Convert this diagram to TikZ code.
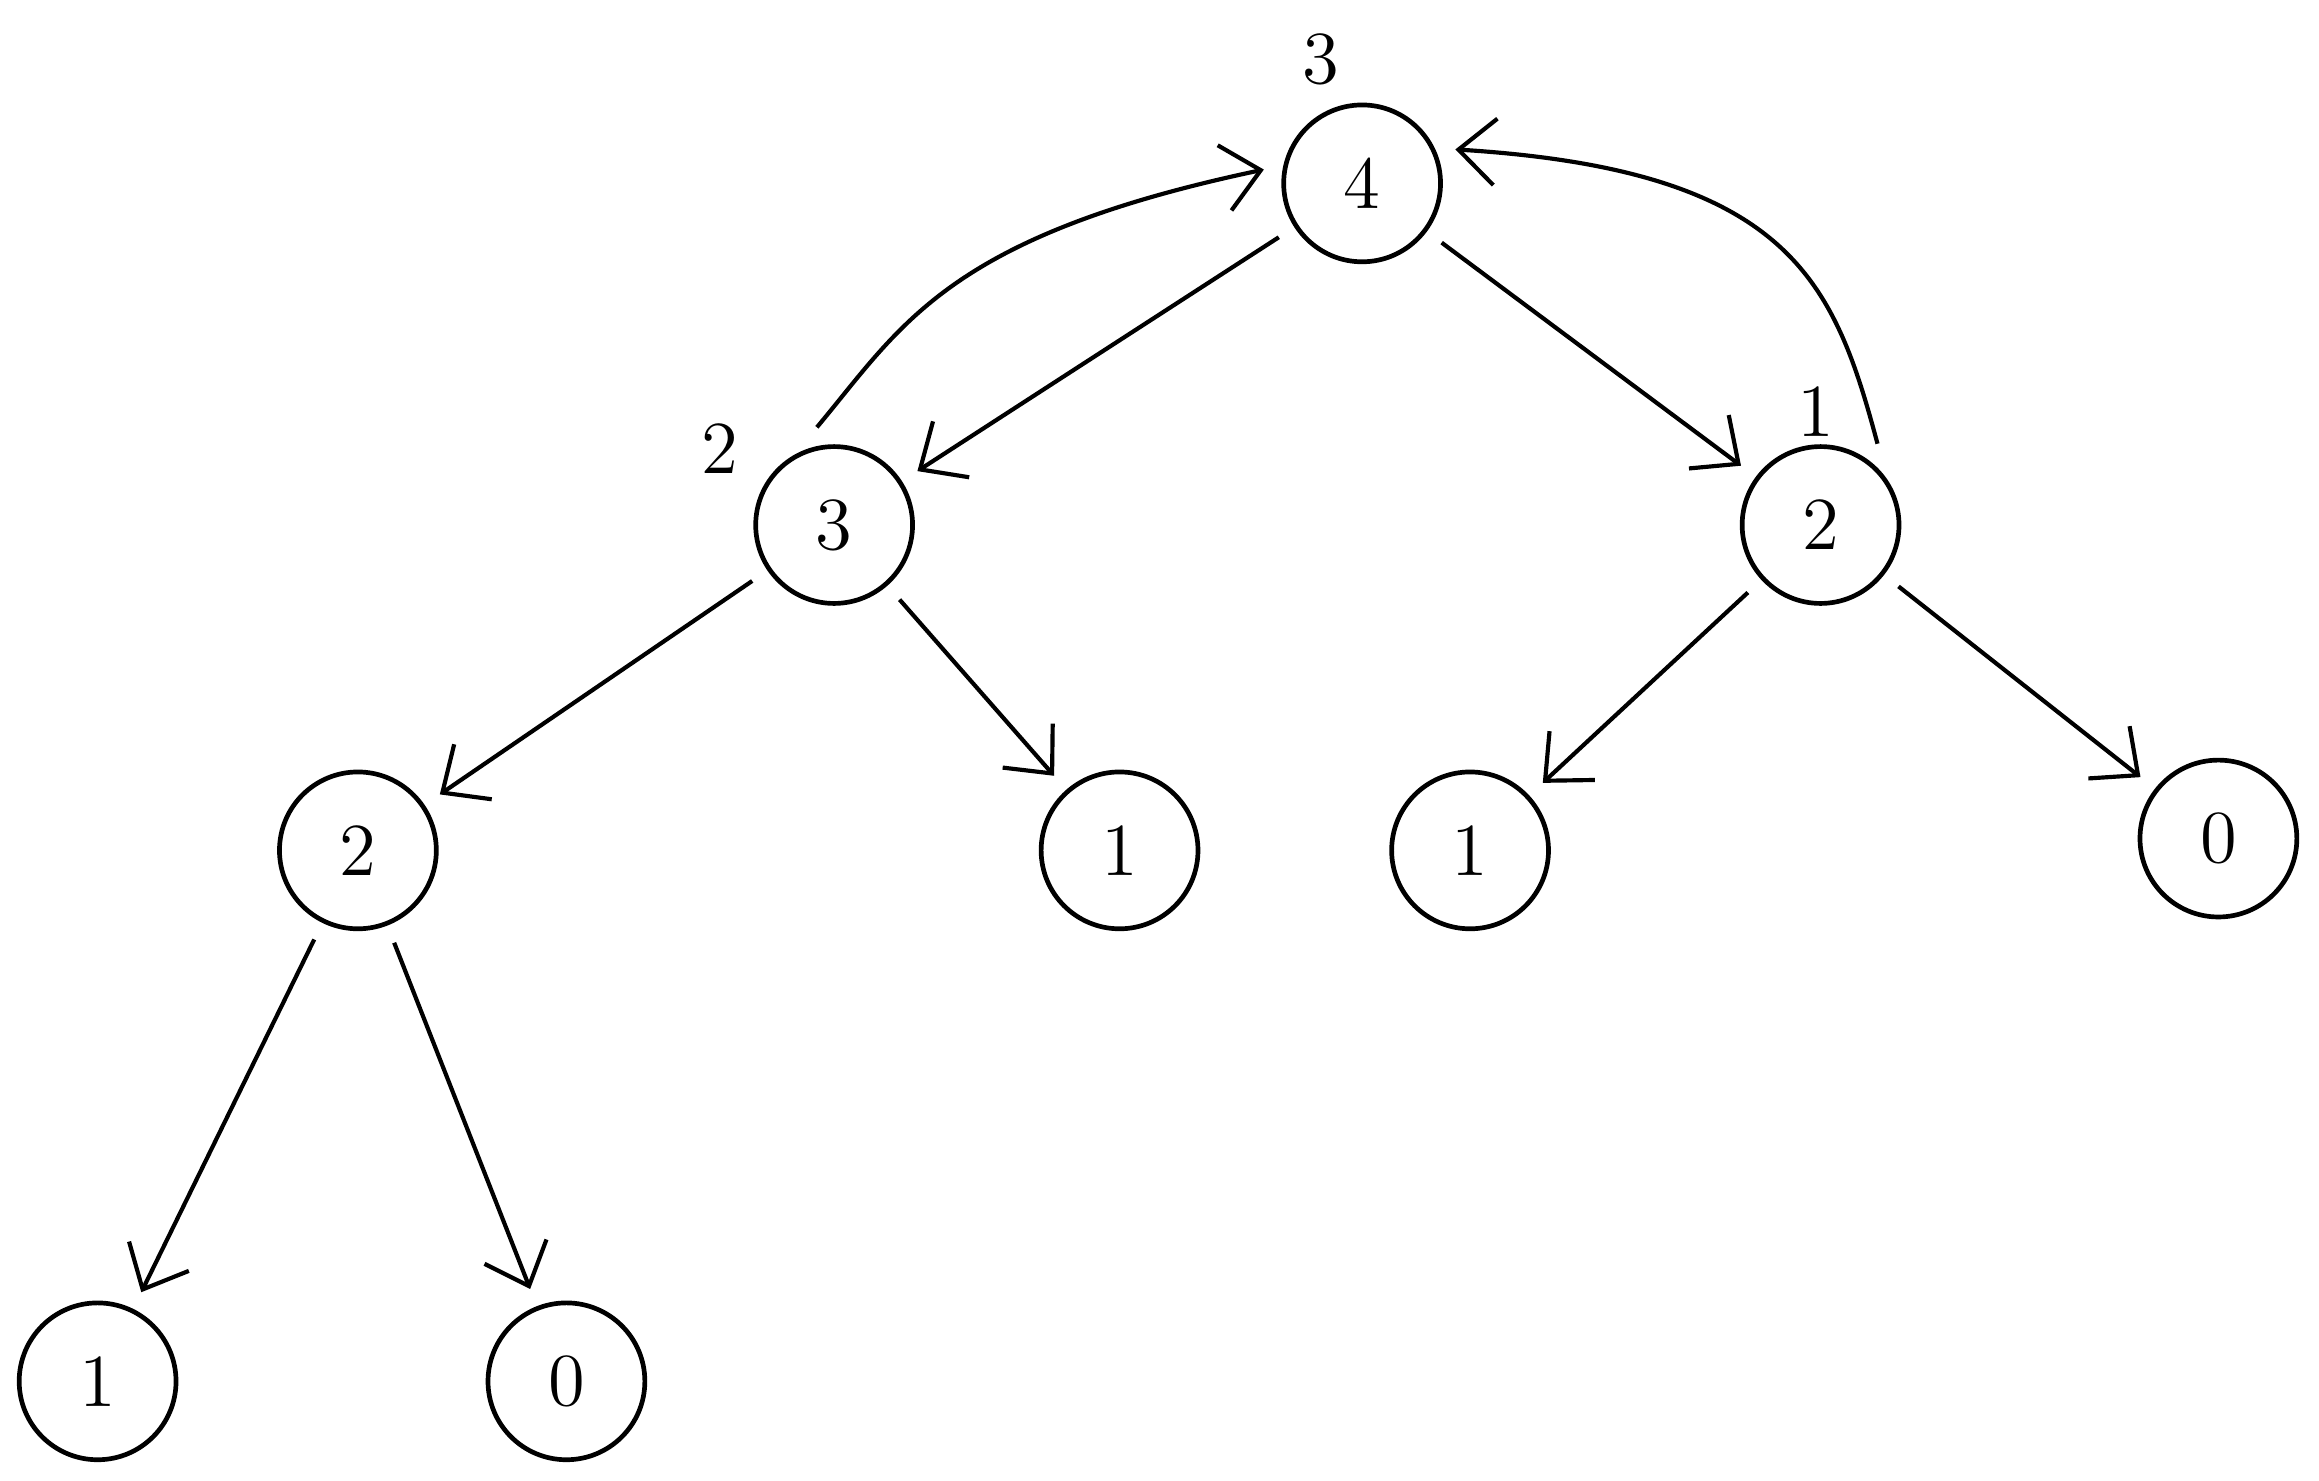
\documentclass[tikz,border=0pt]{standalone}
\usetikzlibrary{arrows.meta}
\begin{document}
\begin{tikzpicture}[x=0.01cm,y=-0.01cm,
  nd/.style={circle,draw,line width=0.9pt,minimum size=1.06cm,inner sep=0pt,font=\Large,outer sep=4pt},
  lb/.style={font=\Large},
  ar/.style={draw,line width=0.8pt,-{Straight Barb[length=2.5mm,width=4.5mm]}}]
\useasboundingbox (0,0) rectangle (1568,1001);
\node[nd] (r) at (921,124) {4};
\node[nd] (a) at (564,355) {3};
\node[nd] (b) at (1231,355) {2};
\node[nd] (c) at (242,575) {2};
\node[nd] (d) at (757,575) {1};
\node[nd] (e) at (994,575) {1};
\node[nd] (f) at (1500,567) {0};
\node[nd] (g) at (66,934) {1};
\node[nd] (h) at (383,934) {0};
\node[lb] (l1) at (893,40) {3};
\node[lb] (l2) at (487,303) {2};
\node[lb] (l3) at (1228,278) {1};
\draw[ar] (r) -- (a);
\draw[ar] (r) -- (b);
\draw[ar] (a) -- (c);
\draw[ar] (a) -- (d);
\draw[ar] (b) -- (e);
\draw[ar] (b) -- (f);
\draw[ar] (c) -- (g);
\draw[ar] (c) -- (h);
\draw[ar] (a.100) .. controls (610,220) and (640,160) .. (r.172);
\draw[ar] (b.55) .. controls (1240,190) and (1210,115) .. (r.20);
\end{tikzpicture}
\end{document}
